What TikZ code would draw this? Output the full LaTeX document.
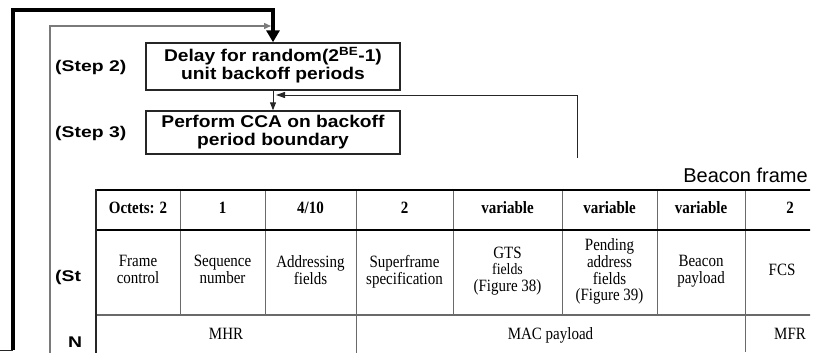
\documentclass[tikz,border=0pt]{standalone}
\usepackage{fontspec}
\usepackage{graphicx}
\setmainfont{Liberation Serif}
\newfontfamily\arialf{Liberation Sans}
\usetikzlibrary{arrows.meta}
\definecolor{gridgray}{HTML}{6A6A6A}
\definecolor{linegray}{HTML}{7A7A7A}
\newcommand\fbtext[1]{\scalebox{1.13}[1]{\begin{tabular}{@{}c@{}}#1\end{tabular}}}
\newcommand\celltext[1]{\scalebox{1}[1.15]{\begin{tabular}{@{}c@{}}#1\end{tabular}}}
\tikzset{
  flowbox/.style={draw=black!85, line width=1.4pt, minimum width=254pt, inner sep=0pt,
    font=\arialf\bfseries\fontsize{17}{18.5}\selectfont, fill=white},
  steplabel/.style={font=\arialf\bfseries\fontsize{15.5}{18}\selectfont, inner sep=0pt},
  cellhead/.style={font=\bfseries\fontsize{15}{13.8}\selectfont, inner sep=0pt},
  cellbody/.style={font=\fontsize{15}{13.8}\selectfont, inner sep=0pt},
  thickline/.style={line width=3.8pt, black},
  thinline/.style={line width=1.3pt, linegray},
  smallline/.style={line width=1pt, black!85},
  tborder/.style={line width=2pt, black},
  tgrid/.style={line width=1pt, gridgray},
}
\begin{document}
\begin{tikzpicture}[x=1pt,y=-1pt]
\useasboundingbox (0,0) rectangle (822,353);
% ---------------- flowchart ----------------
\node[flowbox, minimum height=47pt] (b2) at (273,66.5)
  {\fbtext{Delay for random(2\textsuperscript{BE}-1)\\[-0.5pt]unit backoff periods}};
\node[flowbox, minimum height=43pt] (b3) at (273,132.5)
  {\fbtext{Perform CCA on backoff\\[-0.5pt]period boundary}};
\node[steplabel, anchor=west] (s2) at (55,67) {\scalebox{1.25}[1]{(Step 2)}};
\node[steplabel, anchor=west] (s3) at (55,133) {\scalebox{1.25}[1]{(Step 3)}};
\node[steplabel, anchor=west] (s4) at (55,277) {\scalebox{1.25}[1]{(St}};
\node[steplabel, anchor=west] (s5) at (68,342) {\scalebox{1.25}[1]{N}};

\coordinate (tk0) at (0,350);
\coordinate (tk1) at (13,350);
\coordinate (tk2) at (13,10);
\coordinate (tn0) at (50,353);
\coordinate (tn1) at (50,26);
\coordinate (tn2) at (271,26);
\coordinate (lp0) at (577,158);
\coordinate (lp1) at (577,95);
\coordinate (lp2) at (276,95);

\draw[smallline] (tk0) -- (tk1);
\draw[thickline, -{Triangle[width=13pt,length=12pt]}] (tk1) -- (tk2) -| (b2.north);
\draw[thinline, -{Triangle[width=6pt,length=7pt]}] (tn0) -- (tn1) -- (tn2);
\draw[smallline, -{Triangle[width=6pt,length=8pt]}] (b2.south) -- (b3.north);
\draw[smallline, -{Triangle[width=6pt,length=9pt]}] (lp0) -- (lp1) -- (lp2);

% ---------------- cover ----------------
\fill[white] (82,160) rectangle (822,353);

\node[font=\arialf\fontsize{20}{24}\selectfont, anchor=base east, inner sep=0pt] (title) at (808,182) {Beacon frame};

% ---------------- table ----------------
\begin{scope}
\clip (82,160) rectangle (810,353);
% grid lines
\draw[tgrid] (180,190) -- (180,315);
\draw[tgrid] (265,190) -- (265,315);
\draw[tgrid] (356,190) -- (356,353);
\draw[tgrid] (453,190) -- (453,315);
\draw[tgrid] (562,190) -- (562,315);
\draw[tgrid] (657,190) -- (657,315);
\draw[tgrid] (745,190) -- (745,352);
\draw[line width=1.4pt, gridgray] (96,315) -- (822,315);
\draw[tborder] (96,190) -- (822,190);
\draw[tborder] (96,230) -- (822,230);
\draw[line width=2pt, black!85] (96,189) -- (96,353);
% header
\node[cellhead] (h1) at (138,210) {\celltext{Octets: 2}};
\node[cellhead] (h2) at (222.5,210) {\celltext{1}};
\node[cellhead] (h3) at (310.5,210) {\celltext{4/10}};
\node[cellhead] (h4) at (404.5,210) {\celltext{2}};
\node[cellhead] (h5) at (507.5,210) {\celltext{variable}};
\node[cellhead] (h6) at (609.5,210) {\celltext{variable}};
\node[cellhead] (h7) at (701,210) {\celltext{variable}};
\node[cellhead] (h8) at (790,210) {\celltext{2}};
% body
\node[cellbody] (c1) at (138,272) {\celltext{Frame\\control}};
\node[cellbody] (c2) at (222.5,272) {\celltext{Sequence\\number}};
\node[cellbody] (c3) at (310.5,272) {\celltext{Addressing\\fields}};
\node[cellbody] (c4) at (404.5,272) {\celltext{Superframe\\specification}};
\node[cellbody] (c5) at (507.5,272) {\celltext{GTS\\{\fontsize{13.8}{13.8}\selectfont fields}\\(Figure 38)}};
\node[cellbody] (c6) at (609.5,272) {\celltext{Pending\\address\\fields\\(Figure 39)}};
\node[cellbody] (c7) at (701,272) {\celltext{Beacon\\payload}};
\node[cellbody] (c8) at (782,272) {\celltext{FCS}};
% bottom row
\node[cellbody] (m1) at (226,336) {\celltext{MHR}};
\node[cellbody] (m2) at (550.5,336) {\celltext{MAC payload}};
\node[cellbody] (m3) at (790,336) {\celltext{MFR}};
\end{scope}
\end{tikzpicture}
\end{document}
